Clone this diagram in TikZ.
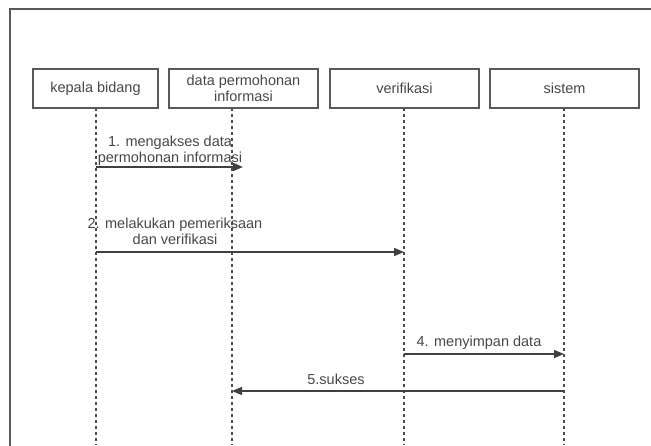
\documentclass[tikz,border=0pt]{standalone}
\usepackage{fontspec}
\setmainfont{Liberation Sans}
\usetikzlibrary{arrows.meta}
\begin{document}
\begin{tikzpicture}[x=1pt,y=-1pt,
  txt/.style={text=black!72,font=\fontsize{14.5}{16}\selectfont,align=center,inner sep=0pt},
  actor/.style={txt,draw=black!65,line width=1.5pt,minimum height=39pt,inner sep=0pt},
  lifeline/.style={draw=black!70,line width=1.2pt,dash pattern=on 3pt off 3pt},
  msg/.style={draw=black!75,line width=1.5pt,-{Triangle[length=10pt,width=8pt]}},
  frameline/.style={draw=black!65,line width=1.5pt}]
\useasboundingbox (0,0) rectangle (651,445);
\begin{scope}
\clip (0,0) rectangle (651,445);
\draw[frameline] (10,9) rectangle (700,500);
\end{scope}

% participants
\node[actor,minimum width=125pt] (kb) at (95.5,88.5) {kepala bidang};
\node[actor,minimum width=149pt] (dp) at (243.5,88.5) {data permohonan\\informasi};
\node[actor,minimum width=149pt] (vf) at (404.5,88.5) {verifikasi};
\node[actor,minimum width=149pt] (ss) at (564.5,88.5) {sistem};

% lifelines
\coordinate (kbt) at (96,108);  \coordinate (kbb) at (96,445);
\coordinate (dpt) at (232,108); \coordinate (dpb) at (232,445);
\coordinate (vft) at (404,108); \coordinate (vfb) at (404,445);
\coordinate (sst) at (564,108); \coordinate (ssb) at (564,445);
\draw[lifeline] (kbt) -- (kbb);
\draw[lifeline] (dpt) -- (dpb);
\draw[lifeline] (vft) -- (vfb);
\draw[lifeline] (sst) -- (ssb);

% message end points
\coordinate (m1a) at (96,167);  \coordinate (m1b) at (243,167);
\coordinate (m2a) at (96,252);  \coordinate (m2b) at (404,252);
\coordinate (m4a) at (404,354); \coordinate (m4b) at (564,354);
\coordinate (m5a) at (564,391); \coordinate (m5b) at (232,391);

% messages
\draw[msg] (m1a) -- (m1b);
\node[txt] (t1) at (170,150.5) {1. mengakses data\\permohonan informasi};
\draw[msg] (m2a) -- (m2b);
\node[txt] (t2) at (175,231) {2. melakukan pemeriksaan\\dan verifikasi};
\draw[msg] (m4a) -- (m4b);
\node[txt] (t4) at (479,343) {4. menyimpan data};
\draw[msg] (m5a) -- (m5b);
\node[txt] (t5) at (336,379) {5.sukses};
\end{tikzpicture}
\end{document}
